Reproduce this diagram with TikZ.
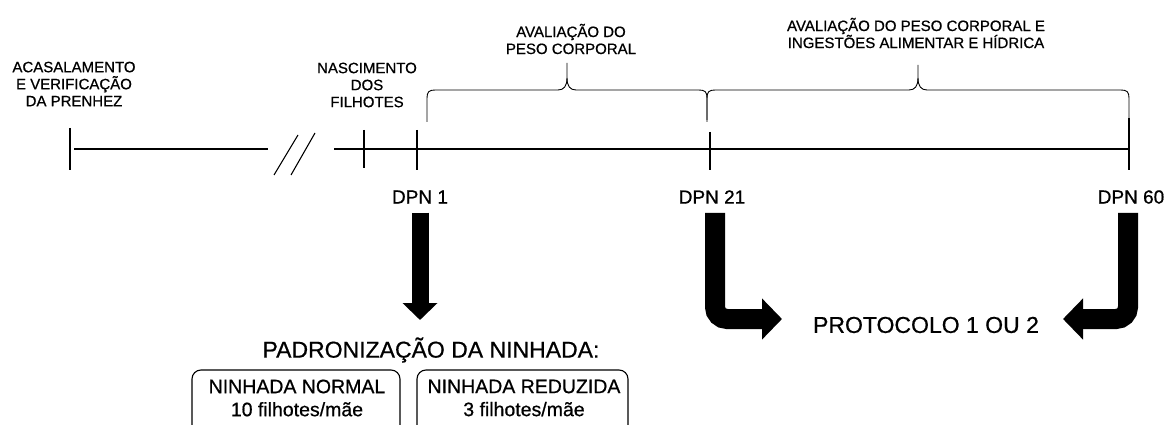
\documentclass[tikz,border=0pt]{standalone}
\usepackage{fontspec}
\setmainfont{Liberation Sans}[FakeBold=0.7]
\usetikzlibrary{arrows.meta, positioning, calc}

\begin{document}
\begin{tikzpicture}[
  x=1pt, y=-1pt,
  every node/.style={text=black, inner sep=0pt},
  smalllabel/.style={font=\fontsize{15}{17}\selectfont, align=center},
  daylabel/.style={font=\fontsize{19}{22}\selectfont},
  biglabel/.style={font=\fontsize{23}{27}\selectfont},
  littertext/.style={font=\fontsize{19.5}{23}\selectfont, align=center},
  timeline/.style={line width=1.4pt},
  daytick/.style={line width=1.1pt},
  brace/.style={line width=0.9pt},
  litterbox/.style={line width=1.1pt, rounded corners=9pt},
  fatdown/.style={line width=17pt, -{Triangle[width=34pt, length=17pt]}},
  fatbend/.style={line width=20pt, rounded corners=12pt,
    -{Triangle[width=40pt, length=20pt]}},
]
\useasboundingbox (0,0) rectangle (1168,425);

% Timeline
\draw[timeline] (74,149) -- (268,149);
\draw[timeline] (334,149) -- (1129,149);
\draw[daytick] (274,175) -- (298,135);
\draw[daytick] (291,175) -- (315,133);
\draw[daytick] (70,128) -- (70,170);
\draw[daytick] (364,130) -- (364,168);
\draw[daytick] (417,130) -- (417,170);
\draw[daytick] (710,132) -- (710,170);
\draw[daytick] (1129,118) -- (1129,170);

% Labels above the timeline
\node[smalllabel] (mating) at (74,84)
  {ACASALAMENTO\\E VERIFICAÇÃO\\DA PRENHEZ};
\node[smalllabel] (birth) at (367,85)
  {NASCIMENTO\\DOS\\FILHOTES};
\node[smalllabel] (weight) at (571,39)
  {AVALIAÇÃO DO\\PESO CORPORAL};
\node[smalllabel] (intake) at (916,33)
  {AVALIAÇÃO DO PESO CORPORAL E\\INGESTÕES ALIMENTAR E HÍDRICA};

% Braces
\draw[brace] (427,122) -- (427,98) .. controls (427,92) and (429,90) .. (435,90)
  -- (558,90) .. controls (564,90) and (567,86) .. (567,78) -- (567,63);
\draw[brace] (567,78) .. controls (567,86) and (570,90) .. (576,90)
  -- (699,90) .. controls (705,90) and (707,92) .. (707,98) -- (707,122);
\draw[brace] (707,120) -- (707,98) .. controls (707,92) and (709,90) .. (715,90)
  -- (909,90) .. controls (915,90) and (918,86) .. (918,78) -- (918,65);
\draw[brace] (918,78) .. controls (918,86) and (921,90) .. (927,90)
  -- (1121,90) .. controls (1127,90) and (1129,92) .. (1129,98) -- (1129,118);

% Days
\node[daylabel] (dpnA) at (420,197) {DPN 1};
\node[daylabel] (dpnB) at (712,197) {DPN 21};
\node[daylabel] (dpnC) at (1131,197) {DPN 60};

% Litter standardization
\node[biglabel] (padr) at (431,350) {PADRONIZAÇÃO DA NINHADA:};
\coordinate (padtop) at (420,320);
\draw[fatdown] ([yshift=-9pt]dpnA.south) -- (padtop);

\node[littertext] (normal) at (297,398) {NINHADA NORMAL\\10 filhotes/mãe};
\node[littertext] (reduced) at (524,398) {NINHADA REDUZIDA\\3 filhotes/mãe};
\draw[litterbox] (192,440) |- (400,370) -- (400,440);
\draw[litterbox] (417,440) |- (628,370) -- (628,440);

% Protocol
\node[biglabel] (proto) at (926,325) {PROTOCOLO 1 OU 2};
\coordinate (protoL) at (782,319);
\coordinate (protoR) at (1063,319);
\draw[fatbend] ([xshift=3pt,yshift=-9pt]dpnB.south) |- (protoL);
\draw[fatbend] ([xshift=-3pt,yshift=-9pt]dpnC.south) |- (protoR);

\end{tikzpicture}
\end{document}
